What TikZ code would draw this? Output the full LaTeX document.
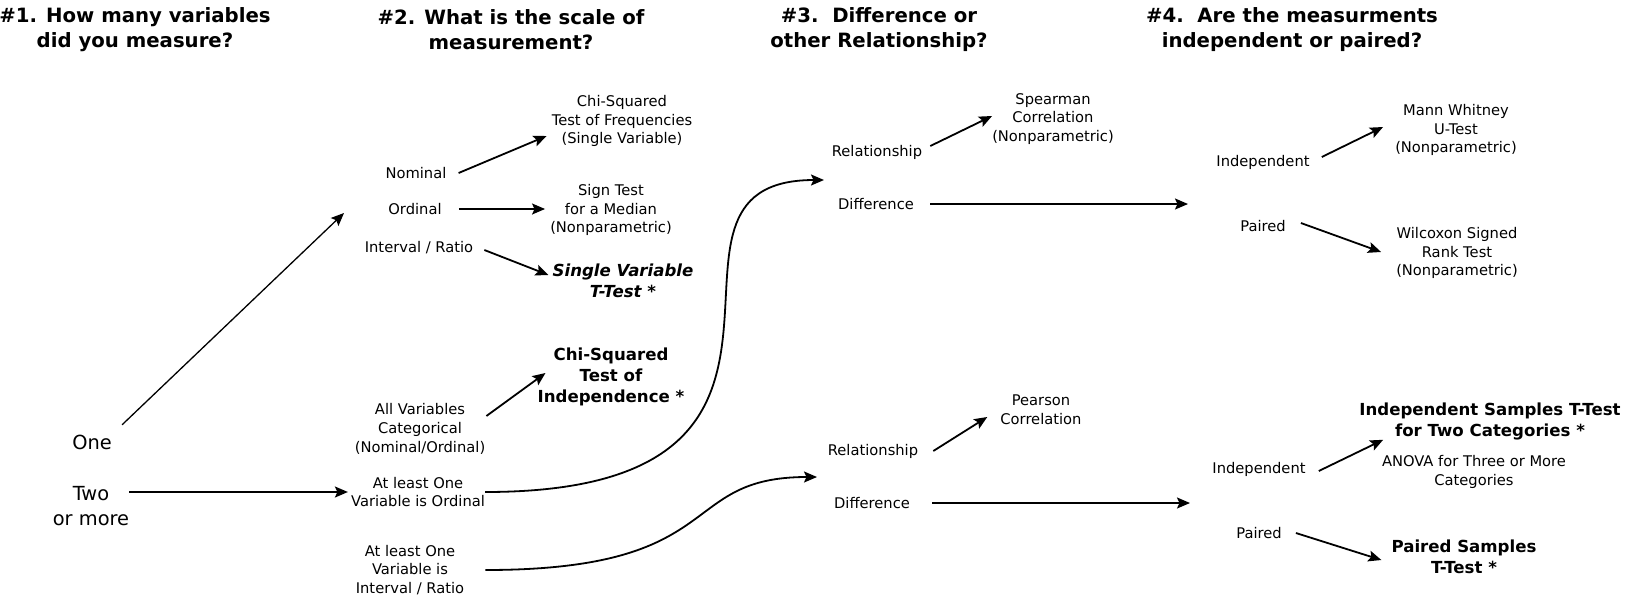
\documentclass[tikz,border=0pt]{standalone}
\usepackage{fontspec}
\setmainfont{DejaVu Sans}
\usepackage{tikz}
\usetikzlibrary{positioning, arrows.meta, calc}

\begin{document}
\begin{tikzpicture}[
    x=1pt, y=-1pt,
    every node/.style={align=center, inner sep=0pt},
    hd/.style={font=\bfseries\fontsize{19.7}{24.9}\selectfont},
    cnt/.style={font=\fontsize{19.4}{24.9}\selectfont},
    lbl/.style={font=\fontsize{14.7}{18.7}\selectfont},
    res/.style={font=\bfseries\fontsize{16.6}{21}\selectfont},
    arr/.style={line width=1.8pt, -{Stealth[length=13pt, width=11pt, inset=2.5pt]}}
]
    \useasboundingbox (0,0) rectangle (1626,598);

    \node[hd] (hvars) at (135,30) {\#1. How many variables\\did you measure?};
    \node[hd] (hscale) at (511,30) {\#2. What is the scale of\\measurement?};
    \node[hd] (hdiff) at (879,30) {\#3.\ \ Difference or\\other Relationship?};
    \node[hd] (hpair) at (1292,30) {\#4.\ \ Are the measurments\\independent or paired?};

    \node[cnt] (one) at (92,442) {One};
    \node[cnt] (two) at (91,506) {Two\\or more};

    \node[lbl] (nom) at (416,173) {Nominal};
    \node[lbl] (ordl) at (415,209) {Ordinal};
    \node[lbl] (intr) at (419,248) {Interval / Ratio};
    \node[lbl] (allcat) at (420,429) {All Variables\\Categorical\\(Nominal/Ordinal)};
    \node[lbl] (atlord) at (418,492) {At least One\\Variable is Ordinal};
    \node[lbl] (atlint) at (410,570) {At least One\\Variable is\\Interval / Ratio};

    \node[lbl] (chifreq) at (622,121) {Chi-Squared\\Test of Frequencies\\(Single Variable)};
    \node[lbl] (signt) at (611,210) {Sign Test\\for a Median\\(Nonparametric)};
    \node[res, font=\bfseries\itshape\fontsize{16.6}{21}\selectfont] (singt) at (623,281) {Single Variable\\T-Test *};
    \node[res] (chiind) at (611,377) {Chi-Squared\\Test of\\Independence *};

    \node[lbl] (reltop) at (877,152) {Relationship};
    \node[lbl] (difftop) at (876,204) {Difference};
    \node[lbl] (spear) at (1053,119) {Spearman\\Correlation\\(Nonparametric)};
    \node[lbl] (relbot) at (873,451) {Relationship};
    \node[lbl] (diffbot) at (872,503) {Difference};
    \node[lbl] (pears) at (1041,410) {Pearson\\Correlation};

    \node[lbl] (indtop) at (1263,162) {Independent};
    \node[lbl] (pairtop) at (1263,226) {Paired};
    \node[lbl] (mannw) at (1456,130) {Mann Whitney\\U-Test\\(Nonparametric)};
    \node[lbl] (wilcox) at (1457,253) {Wilcoxon Signed\\Rank Test\\(Nonparametric)};
    \node[lbl] (indbot) at (1259,469) {Independent};
    \node[lbl] (pairbot) at (1259,533) {Paired};
    \node[res] (indt) at (1490,421) {Independent Samples T-Test\\for Two Categories *};
    \node[lbl] (anova) at (1474,472) {ANOVA for Three or More\\Categories};
    \node[res] (pairt) at (1464,557) {Paired Samples\\T-Test *};

    \coordinate (c2in) at (344,213);
    \coordinate (c3top) at (824,180);
    \coordinate (c3bot) at (817,477);
    \coordinate (c4top) at (1188,204);
    \coordinate (c4bot) at (1190,503);

    \draw[arr, line width=1.3pt, shorten <=14pt] (one.north east) -- (c2in);
    \draw[arr] (two.east |- atlord.west) -- ([xshift=-3pt]atlord.west);

    \draw[arr] ([xshift=12pt]nom.east) -- ([xshift=-5pt, yshift=-15pt]chifreq.west);
    \draw[arr] ([xshift=17pt]ordl.east) -- ([xshift=-5pt, yshift=1pt]signt.west);
    \draw[arr] ([xshift=11pt, yshift=-2pt]intr.east) -- ([xshift=-4pt, yshift=6pt]singt.west);
    \draw[arr] ([xshift=1pt, yshift=13pt]allcat.east) -- ([xshift=8pt, yshift=4pt]chiind.west);
    \draw[arr] (atlord.east) .. controls +(394,0) and +(-208,0) .. (c3top);
    \draw[arr] ([xshift=21pt]atlint.east) .. controls +(245,0) and +(-141,0) .. (c3bot);

    \draw[arr] ([xshift=8pt, yshift=6pt]reltop.east) -- ([yshift=3pt]spear.west);
    \draw[arr] ([xshift=16pt]difftop.east) -- (c4top);
    \draw[arr] ([xshift=15pt]relbot.east) -- ([xshift=-13pt, yshift=-7pt]pears.west);
    \draw[arr] ([xshift=22pt]diffbot.east) -- (c4bot);

    \draw[arr] ([xshift=12pt, yshift=5pt]indtop.east) -- ([xshift=-12pt, yshift=3pt]mannw.west);
    \draw[arr] ([xshift=15pt, yshift=3pt]pairtop.east) -- ([xshift=-15pt, yshift=1pt]wilcox.west);
    \draw[arr] ([xshift=13pt, yshift=-2pt]indbot.east) -- ([xshift=24pt]indt.south west);
    \draw[arr] ([xshift=14pt]pairbot.east) -- ([xshift=-10pt, yshift=-3pt]pairt.west);
\end{tikzpicture}
\end{document}
